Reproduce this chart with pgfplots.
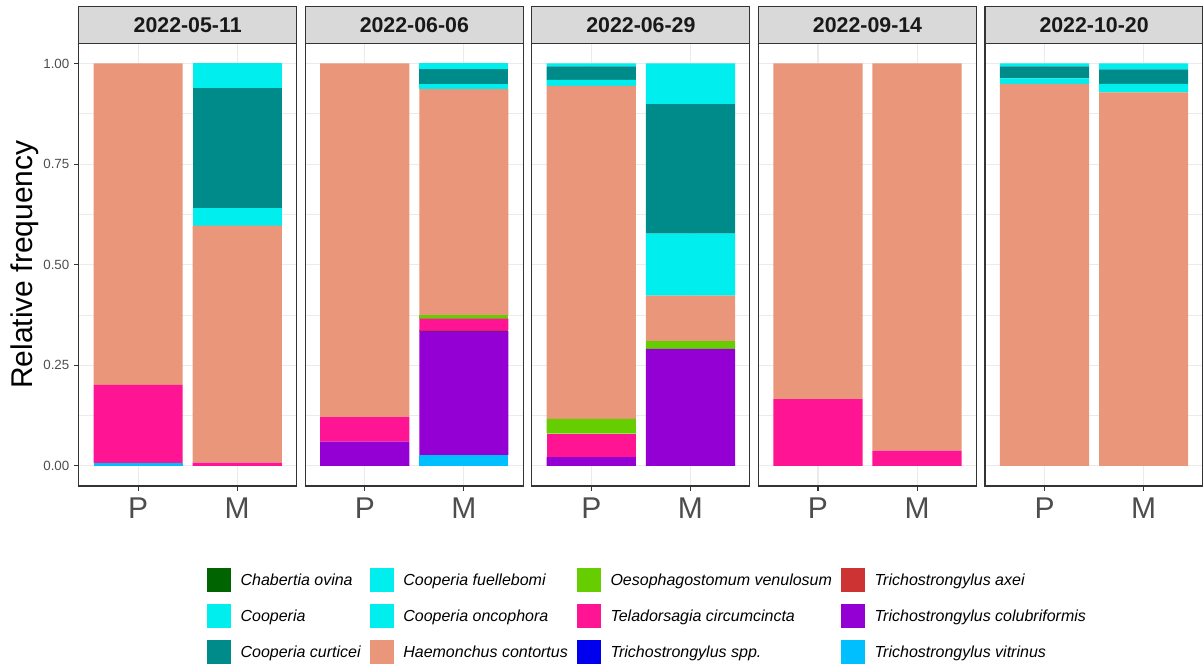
\documentclass[border=0pt]{standalone}
\usepackage{pgfplots}
\pgfplotsset{compat=1.18}
\usepackage{pgfplotstable}
\usepackage{fontspec}
\setmainfont{Liberation Sans}

\definecolor{cChab}{HTML}{006400}
\definecolor{cCoop}{HTML}{00EEEE}
\definecolor{cCurt}{HTML}{008B8B}
\definecolor{cFuel}{HTML}{00EEEE}
\definecolor{cOnco}{HTML}{00EEEE}
\definecolor{cHaem}{HTML}{E9967A}
\definecolor{cOeso}{HTML}{66CD00}
\definecolor{cTela}{HTML}{FF1493}
\definecolor{cAxei}{HTML}{CD3333}
\definecolor{cColu}{HTML}{9400D3}
\definecolor{cSpp}{HTML}{0000EE}
\definecolor{cVitr}{HTML}{00BFFF}
\definecolor{gridc}{HTML}{EBEBEB}
\definecolor{framec}{HTML}{333333}
\definecolor{tickc}{HTML}{4D4D4D}
\definecolor{stripc}{HTML}{D9D9D9}

% relative frequencies, x: 1 = P, 2 = M
\pgfplotstableread{
x Vitr Spp Colu Axei Tela Oeso Haem Onco Fuel Curt Coop Chab
1 0.007 0 0 0 0.194 0 0.799 0 0 0 0 0
2 0 0 0 0 0.008 0 0.589 0.045 0 0.298 0.060 0
}\dA
\pgfplotstableread{
x Vitr Spp Colu Axei Tela Oeso Haem Onco Fuel Curt Coop Chab
1 0 0 0.060 0 0.061 0 0.879 0 0 0 0 0
2 0.027 0 0.308 0.003 0.028 0.008 0.562 0.012 0 0.037 0.015 0
}\dB
\pgfplotstableread{
x Vitr Spp Colu Axei Tela Oeso Haem Onco Fuel Curt Coop Chab
1 0 0 0.022 0 0.058 0.037 0.827 0.015 0 0.034 0.007 0
2 0 0 0.291 0 0 0.019 0.113 0.154 0 0.322 0.101 0
}\dC
\pgfplotstableread{
x Vitr Spp Colu Axei Tela Oeso Haem Onco Fuel Curt Coop Chab
1 0 0 0 0 0.166 0 0.834 0 0 0 0 0
2 0 0 0 0 0.038 0 0.962 0 0 0 0 0
}\dD
\pgfplotstableread{
x Vitr Spp Colu Axei Tela Oeso Haem Onco Fuel Curt Coop Chab
1 0 0 0 0 0 0 0.949 0.014 0 0.030 0.007 0
2 0 0 0 0 0 0 0.928 0.021 0 0.036 0.015 0
}\dE

\pgfplotsset{
  facet/.style={
    scale only axis, width=163.5pt, height=332pt, anchor=south west,
    ybar stacked, bar width=0.9,
    xmin=0.4, xmax=2.6, ymin=-0.05, ymax=1.05,
    xtick={1,2}, xticklabels={P,M},
    ytick={0,0.25,0.5,0.75,1},
    minor y tick num=1, minor tick length=0pt,
    xmajorgrids, ymajorgrids, yminorgrids,
    major grid style={gridc, line width=0.8pt},
    minor grid style={gridc, line width=0.4pt},
    tick align=outside, major tick length=3.5pt,
    xtick pos=left, ytick pos=left,
    tick style={framec, line width=0.8pt},
    axis line style={framec, line width=0.9pt},
    xticklabel style={font=\fontsize{22.5}{26}\selectfont, text=tickc, yshift=-2pt},
    yticklabel style={font=\fontsize{10}{12}\selectfont, text=tickc,
      /pgf/number format/.cd, fixed, fixed zerofill, precision=2},
    /pgf/number format/assume math mode=true,
    every axis plot/.append style={draw=none},
  }
}

\newcommand{\facet}[5]{%
  \begin{axis}[facet, name=#1, at={(#2,133.5pt)}, #5]
    \addplot[fill=cVitr] table[x=x,y=Vitr]{#3};
    \addplot[fill=cSpp]  table[x=x,y=Spp]{#3};
    \addplot[fill=cColu] table[x=x,y=Colu]{#3};
    \addplot[fill=cAxei] table[x=x,y=Axei]{#3};
    \addplot[fill=cTela] table[x=x,y=Tela]{#3};
    \addplot[fill=cOeso] table[x=x,y=Oeso]{#3};
    \addplot[fill=cHaem] table[x=x,y=Haem]{#3};
    \addplot[fill=cOnco] table[x=x,y=Onco]{#3};
    \addplot[fill=cFuel] table[x=x,y=Fuel]{#3};
    \addplot[fill=cCurt] table[x=x,y=Curt]{#3};
    \addplot[fill=cCoop] table[x=x,y=Coop]{#3};
    \addplot[fill=cChab] table[x=x,y=Chab]{#3};
  \end{axis}
  \draw[framec, line width=0.9pt, fill=stripc] (#1.north west) rectangle ([yshift=27.5pt]#1.north east);
  \node[font=\bfseries\fontsize{16}{19}\selectfont, text=black!90] at ([yshift=13.75pt]#1.north) {#4};
}

\begin{document}
\begin{tikzpicture}
\useasboundingbox (0,0) rectangle (902.25pt,498pt);

\facet{pa}{59.0pt}{\dA}{2022-05-11}{}
\facet{pb}{229.0pt}{\dB}{2022-06-06}{yticklabels={}, ytick style={draw=none}}
\facet{pc}{398.9pt}{\dC}{2022-06-29}{yticklabels={}, ytick style={draw=none}}
\facet{pd}{568.9pt}{\dD}{2022-09-14}{yticklabels={}, ytick style={draw=none}}
\facet{pe}{738.8pt}{\dE}{2022-10-20}{yticklabels={}, ytick style={draw=none}}

\node[rotate=90, font=\fontsize{22.5}{26}\selectfont] at (18.75pt,299.5pt) {Relative frequency};

\begin{axis}[hide axis, scale only axis, width=1pt, height=1pt,
  at={(155.25pt,72pt)}, anchor=north west,
  xmin=0, xmax=1, ymin=0, ymax=1,
  legend columns=4,
  legend image code/.code={\fill[#1] (0pt,-9pt) rectangle (18pt,9pt);},
  legend style={at={(0,1)}, anchor=north west, draw=none, fill=none,
    inner sep=0pt, row sep=9pt,
    font=\itshape\fontsize{12}{14}\selectfont,
    nodes={inner xsep=0pt, inner ysep=0pt},
    /tikz/every odd column/.append style={column sep=7pt},
    /tikz/every even column/.append style={column sep=7pt}},
  legend cell align=left]
  \addlegendimage{fill=cChab, draw=none}\addlegendentry{Chabertia ovina}
  \addlegendimage{fill=cFuel, draw=none}\addlegendentry{Cooperia fuellebomi}
  \addlegendimage{fill=cOeso, draw=none}\addlegendentry{Oesophagostomum venulosum}
  \addlegendimage{fill=cAxei, draw=none}\addlegendentry{Trichostrongylus axei}
  \addlegendimage{fill=cCoop, draw=none}\addlegendentry{Cooperia}
  \addlegendimage{fill=cOnco, draw=none}\addlegendentry{Cooperia oncophora}
  \addlegendimage{fill=cTela, draw=none}\addlegendentry{Teladorsagia circumcincta}
  \addlegendimage{fill=cColu, draw=none}\addlegendentry{Trichostrongylus colubriformis}
  \addlegendimage{fill=cCurt, draw=none}\addlegendentry{Cooperia curticei}
  \addlegendimage{fill=cHaem, draw=none}\addlegendentry{Haemonchus contortus}
  \addlegendimage{fill=cSpp, draw=none}\addlegendentry{Trichostrongylus spp.}
  \addlegendimage{fill=cVitr, draw=none}\addlegendentry{Trichostrongylus vitrinus}
\end{axis}
\end{tikzpicture}
\end{document}
